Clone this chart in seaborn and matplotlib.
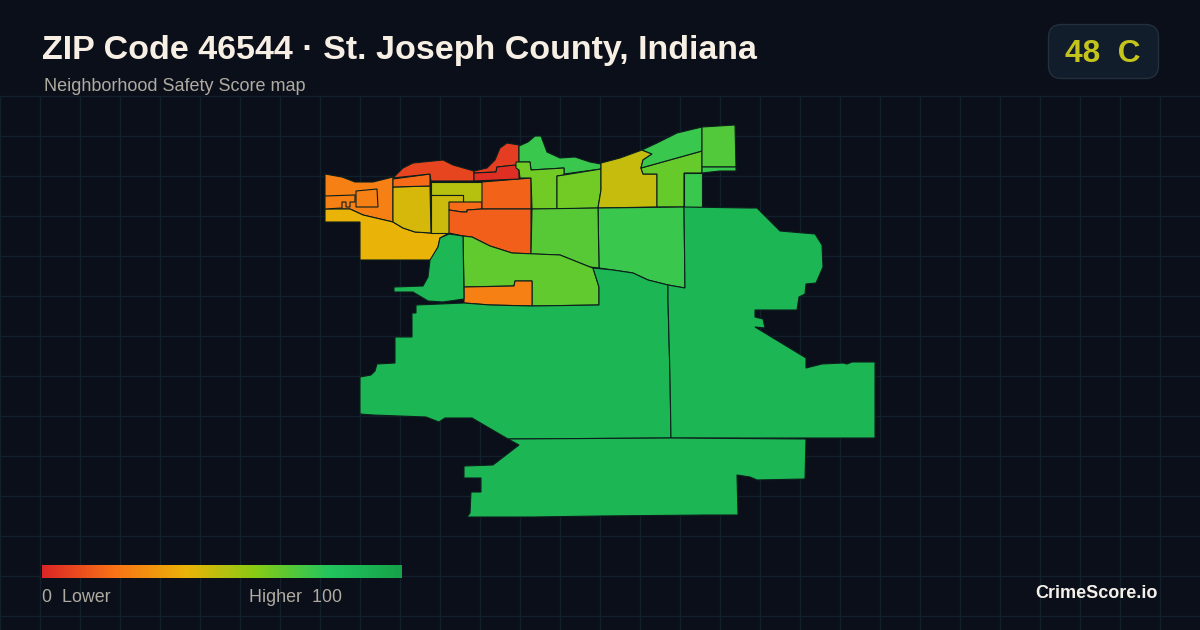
import numpy as np
import matplotlib
matplotlib.use('Agg')
import matplotlib.pyplot as plt
from matplotlib.patches import FancyBboxPatch
import seaborn as sns

title = 'ZIP Code 46544 · St. Joseph County, Indiana'
subtitle = 'Neighborhood Safety Score map'
grade = '48  C'
brand = 'CrimeScore.io'
legend_left = '0  Lower'
legend_right = 'Higher  100'

# colour stops at 0, 20, 40, 60, 80, 100
score_stops = ['#dc2626', '#f97316', '#eab308', '#84cc16', '#22c55e', '#16a34a']

# outlines, in pixels
nw_orange = [(325,174),(342,177),(355,182),(373,182),(393,177),(393,222),(363,215),(350,209),(325,209)]
nw_inner = [(356,191),(377,189),(378,207),(356,207)]
nw_notch = [(325,196),(355,195),(355,202),(350,202),(350,207),(346,207),(346,202),(342,202),(342,208),(325,209)]
nw_yellow = [(325,209),(350,209),(363,215),(393,222),(403,228),(415,232),(431,233),(449,233),(440,238),(438,247),(431,260),(360,260),(360,222),(342,222),(325,222)]
olive_a = [(393,187),(430,186),(431,233),(415,232),(403,228),(393,222)]
strip_a = [(393,179),(430,174),(430,186),(393,187)]
red_top = [(393,178),(403,168),(413,163),(443,160),(453,165),(474,171),(474,181),(431,181),(430,174)]
lime_a = [(431,182),(482,182),(482,202),(463,202),(463,195),(431,195)]
olive_b = [(431,195),(463,195),(463,202),(449,202),(449,233),(431,233)]
small_a = [(449,202),(482,202),(482,209),(467,210),(467,212),(462,212),(449,210)]
redor_a = [(482,182),(519,179),(531,178),(531,209),(482,209)]
redor_b = [(449,210),(462,212),(467,212),(467,210),(482,209),(531,209),(531,254),(512,253),(490,246),(472,237),(463,236),(449,233)]
red_north = [(474,171),(487,168),(495,160),(500,148),(507,143),(519,145),(519,165),(497,167),(496,172),(474,173)]
red_deep = [(474,173),(496,172),(497,167),(515,165),(519,170),(519,179),(474,181)]
green_top = [(519,146),(528,142),(535,136),(541,136),(547,152),(560,158),(575,157),(590,162),(601,164),(601,169),(564,174),(564,168),(531,170),(530,162),(519,162)]
lime_b = [(516,162),(530,162),(531,170),(564,168),(564,175),(557,176),(557,209),(532,209),(531,178),(520,178),(519,170),(516,168)]
lime_c = [(557,176),(564,175),(601,169),(601,190),(598,208),(557,209)]
olive_c = [(601,163),(620,158),(642,150),(652,154),(643,160),(641,168),(643,174),(657,174),(657,207),(598,208),(601,190)]
lime_d = [(641,168),(702,151),(702,173),(684,173),(684,207),(657,207),(657,174),(643,174)]
green_ne = [(642,150),(657,143),(677,133),(702,127),(702,151),(641,168),(643,160),(652,154)]
square_ne = [(702,127),(735,125),(736,167),(702,167)]
strip_ne = [(702,167),(736,167),(736,171),(720,171),(702,173)]
rect_ne = [(684,173),(702,173),(702,207),(684,207)]
green_mid = [(598,208),(684,207),(685,288),(668,285),(648,280),(633,273),(613,270),(599,268)]
green_west = [(532,209),(598,208),(599,268),(590,267),(560,255),(531,254)]
lime_low = [(463,236),(472,237),(490,246),(512,253),(560,255),(590,267),(593,268),(599,287),(599,305),(532,306),(532,281),(515,281),(514,286),(464,287)]
orange_low = [(464,287),(514,286),(515,281),(532,281),(532,306),(490,305),(464,303)]
dark_lake = [(449,234),(463,236),(464,299),(443,302),(428,301),(413,292),(394,292),(394,287),(423,286),(428,277),(430,260),(438,247),(440,238)]
main_sw = [(416,305),(464,303),(490,305),(532,306),(599,305),(599,287),(593,268),(613,270),(633,273),(648,280),(668,285),(668,300),(670,377),(671,438),(508,439),(472,418),(445,418),(439,422),(426,417),(373,415),(360,414),(360,377),(371,375),(375,371),(377,364),(395,363),(395,337),(412,337),(412,313),(416,313)]
main_east = [(684,207),(750,208),(757,208),(777,228),(780,231),(815,234),(822,245),(823,267),(816,283),(806,284),(805,294),(799,297),(797,310),(755,310),(755,317),(763,319),(765,328),(755,327),(806,358),(806,368),(822,364),(843,363),(847,364),(852,362),(875,362),(875,438),(671,438),(670,377),(668,300),(668,285),(685,288)]
main_south = [(508,439),(671,438),(806,439),(805,479),(757,480),(750,477),(737,475),(738,515),(707,515),(600,516),(533,517),(467,517),(470,513),(471,492),(481,492),(481,478),(464,478),(464,466),(493,465),(519,445)]

regions = [nw_orange, nw_yellow, nw_inner, nw_notch, olive_a, strip_a, red_top, lime_a, olive_b, small_a,
           redor_a, redor_b, red_north, red_deep, green_top, lime_b, lime_c, olive_c, lime_d, green_ne,
           square_ne, strip_ne, rect_ne, green_mid, green_west, lime_low, orange_low, dark_lake,
           main_sw, main_east, main_south]
scores = [24, 40, 24, 24, 44, 18, 8, 50, 46, 18,
          16, 15, 6, 2, 75, 64, 64, 47, 66, 75,
          70, 75, 75, 75, 69, 67, 24, 88,
          89, 89, 89]

grid_x = np.arange(0, 1200, 40)
grid_y = np.arange(96, 630, 40)

sns.set_theme(style='dark')
plt.rcParams['font.family'] = ['Liberation Sans', 'DejaVu Sans']
score_cmap = sns.blend_palette(score_stops, as_cmap=True)

fig = plt.figure(figsize=(12, 6.3), dpi=100, facecolor='#0a0f1a')
ax = fig.add_axes([0, 0, 1, 1])
ax.set_facecolor('#0a0f1a')

ax.vlines(grid_x, 96, 630, color='#12202b', lw=1, zorder=1)
ax.hlines(grid_y, 0, 1200, color='#12202b', lw=1, zorder=1)

for poly, score in zip(regions, scores):
    xs, ys = zip(*poly)
    ax.fill(xs, ys, facecolor=score_cmap(score / 100), edgecolor='#0c1f1c', lw=0.8, zorder=2)

# legend bar
bar = np.linspace(0, 1, 360).reshape(1, -1)
ax.imshow(bar, cmap=score_cmap, extent=(42, 402, 578, 565), aspect='auto', zorder=2)

badge = FancyBboxPatch((1048.5, 24.5), 110, 54, boxstyle='round,pad=0,rounding_size=13',
                       facecolor='#111d2a', edgecolor='#232f3d', lw=1, zorder=3)
ax.add_patch(badge)

ax.text(42, 59, title, color='#f7efe4', fontsize=24.5, fontweight='bold', zorder=4)
ax.text(44, 91, subtitle, color='#b0aba1', fontsize=12.95, zorder=4)
ax.text(1102.5, 62, grade, color='#c4c41c', fontsize=22.8, fontweight='bold', ha='center', zorder=4)
ax.text(42, 602, legend_left, color='#b0aba1', fontsize=12.85, zorder=4)
ax.text(249, 602, legend_right, color='#b0aba1', fontsize=12.85, zorder=4)
ax.text(1158, 598, brand, color='#f5f1ea', fontsize=12.95, fontweight='bold', ha='right', zorder=4)

ax.set_xlim(0, 1200)
ax.set_ylim(630, 0)
ax.axis('off')
fig.savefig('out.png', dpi=100, facecolor=fig.get_facecolor())
